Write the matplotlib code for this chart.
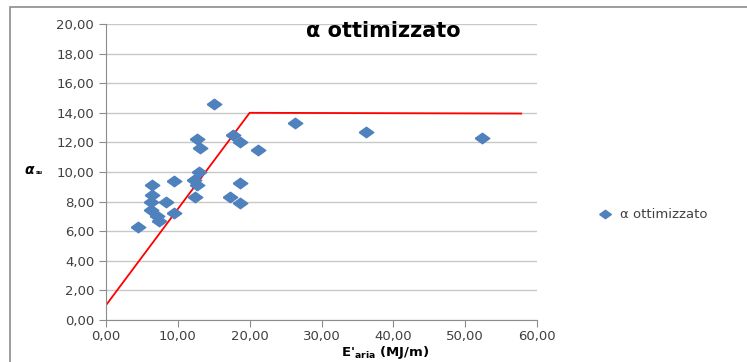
import matplotlib
matplotlib.use("Agg")
from matplotlib import pyplot as plt
from matplotlib.patches import Rectangle
from matplotlib.ticker import FuncFormatter

# dati
e_aria = [4.5, 6.4, 6.4, 6.3, 6.3, 7.1, 7.4, 8.3, 9.4, 9.4, 15.1, 12.6, 13.1, 12.9,
          12.3, 12.6, 12.4, 17.7, 18.7, 21.2, 18.7, 17.3, 18.7, 26.3, 36.2, 52.3]
alfa = [6.3, 9.1, 8.45, 8.0, 7.4, 7.03, 6.71, 8.0, 9.4, 7.2, 14.6, 12.2, 11.6, 10.0,
        9.46, 9.12, 8.29, 12.5, 12.0, 11.5, 9.28, 8.29, 7.93, 13.33, 12.72, 12.32]

line_x = [0, 20, 57.8]
line_y = [1, 14, 13.95]

fig = plt.figure(figsize=(7.47, 3.62), dpi=100)
ax = fig.add_axes([0.1419, 0.116, 0.577, 0.8177])

# cornice del grafico
fig.patches.append(Rectangle((10 / 747, -0.1), 1.0, 1 - 7 / 362 + 0.1,
                             transform=fig.transFigure, fill=False,
                             edgecolor='#8c8c8c', linewidth=1.2))

diamond = [(-1, 0), (0, 0.72), (1, 0), (0, -0.72), (-1, 0)]
ax.plot(e_aria, alfa, linestyle='none', marker=diamond, markersize=10.5,
        color='#4F81BD', label='α ottimizzato', zorder=3)
ax.plot(line_x, line_y, color='red', linewidth=1.3, zorder=2)

ax.set_xlim(0, 60)
ax.set_ylim(0, 20)
ax.set_xticks(range(0, 61, 10))
ax.set_yticks(range(0, 21, 2))
fmt = FuncFormatter(lambda v, p: f"{v:.2f}".replace('.', ','))
ax.xaxis.set_major_formatter(fmt)
ax.yaxis.set_major_formatter(fmt)
ax.tick_params(labelsize=9.5, colors='#404040', length=5, color='#8c8c8c')
ax.tick_params(axis='x', pad=2)

ax.grid(axis='y', color='#c8c8c8', linewidth=1)
ax.set_axisbelow(True)
for s in ['top', 'right']:
    ax.spines[s].set_visible(False)
for s in ['left', 'bottom']:
    ax.spines[s].set_color('#8c8c8c')

fig.text(383 / 747, 1 - 31 / 362, 'α ottimizzato', ha='center', va='center',
         fontsize=15, fontweight='bold')
fig.text(30 / 747, 1 - 170 / 362, r'$\boldsymbol{\alpha}$', fontsize=10, ha='center', va='center')
fig.text(36 / 747, 1 - 172 / 362, 'su', fontsize=4, fontweight='bold', ha='left', va='center')
fig.text(385 / 747, 1 / 362, "E'$_{\\mathbf{aria}}$ (MJ/m)", fontsize=9.5,
         fontweight='bold', ha='center', va='bottom')

fig.legend(loc='center left', bbox_to_anchor=(580 / 747, 1 - 215 / 362), frameon=False,
           fontsize=9.5, handletextpad=0.1, markerscale=0.8, labelcolor='#404040')

fig.savefig('out.png', dpi=100)
